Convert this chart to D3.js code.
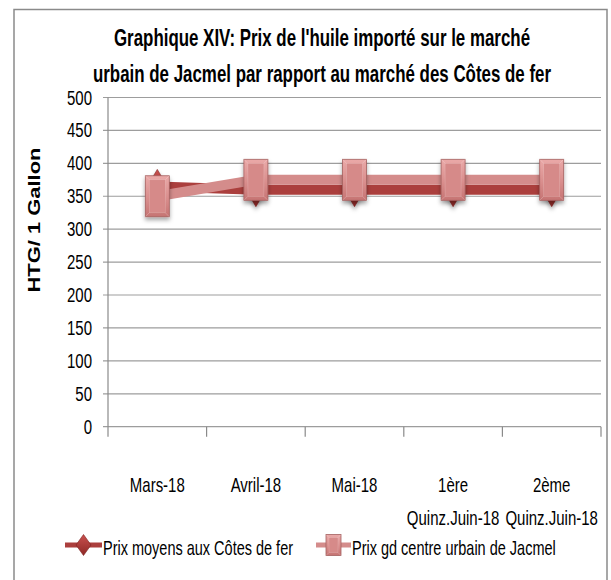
<!DOCTYPE html>
<html>
<head>
<meta charset="utf-8">
<script src="https://cdn.jsdelivr.net/npm/d3@7"></script>
<style>
  body { margin: 0; background: #fff; }
  text { font-family: "Liberation Sans", Arial, sans-serif; fill: #000; }
</style>
</head>
<body>
<div id="chart"></div>
<script>
// data
const categories = ["Mars-18", "Avril-18", "Mai-18", "1ère\nQuinz.Juin-18", "2ème\nQuinz.Juin-18"];
const prixCotesDeFer = [365, 360, 360, 360, 360];
const prixJacmel = [350, 375, 375, 375, 375];
const yTickValues = [0, 50, 100, 150, 200, 250, 300, 350, 400, 450, 500];
const seriesNames = ["Prix moyens aux Côtes de fer", "Prix gd centre urbain de Jacmel"];
const titleLines = ["Graphique XIV: Prix de l'huile importé sur le marché",
                    "urbain de Jacmel par rapport au marché des Côtes de fer"];
const yTitle = "HTG/ 1 Gallon";

const width = 611, height = 580;
const SY = 1.4; // the original picture is stretched vertically

const svg = d3.select("#chart").append("svg")
  .attr("width", width)
  .attr("height", height);

const defs = svg.append("defs");
const squareGrad = defs.append("linearGradient").attr("id", "sqGrad")
  .attr("x1", 0).attr("y1", 0).attr("x2", 0).attr("y2", 1);
squareGrad.append("stop").attr("offset", "0%").attr("stop-color", "#eaa9a8");
squareGrad.append("stop").attr("offset", "55%").attr("stop-color", "#d98e8d");
squareGrad.append("stop").attr("offset", "100%").attr("stop-color", "#c67473");
const diamondGrad = defs.append("linearGradient").attr("id", "diaGrad")
  .attr("x1", 0).attr("y1", 0).attr("x2", 0).attr("y2", 1);
diamondGrad.append("stop").attr("offset", "0%").attr("stop-color", "#c9504e");
diamondGrad.append("stop").attr("offset", "100%").attr("stop-color", "#8e2826");
defs.append("filter").attr("id", "shadow")
  .attr("x", "-50%").attr("y", "-50%").attr("width", "200%").attr("height", "200%")
  .append("feDropShadow")
  .attr("dx", 0).attr("dy", 3).attr("stdDeviation", 2)
  .attr("flood-color", "#000").attr("flood-opacity", 0.35);

// chart border
svg.append("rect")
  .attr("x", 14).attr("y", 9.5)
  .attr("width", 593).attr("height", 600)
  .attr("fill", "none")
  .attr("stroke", "#8a8a8a")
  .attr("stroke-width", 1.5);

const plot = { left: 108, right: 601, top: 97.5, bottom: 426.7 };

const x = d3.scaleBand()
  .domain(categories)
  .range([plot.left, plot.right]);
const cx = d => x(d) + x.bandwidth() / 2;

const y = d3.scaleLinear()
  .domain([0, 500])
  .range([plot.bottom, plot.top]);

// title
svg.append("g").selectAll("text")
  .data(titleLines)
  .join("text")
  .attr("transform", (d, i) => `translate(322,${46 + i * 36}) scale(1,${SY})`)
  .attr("text-anchor", "middle")
  .attr("font-size", 16.9)
  .attr("font-weight", "bold")
  .text(d => d);

// gridlines + y ticks
svg.append("g").selectAll("line")
  .data(yTickValues)
  .join("line")
  .attr("x1", plot.left - 5).attr("x2", plot.right)
  .attr("y1", d => y(d)).attr("y2", d => y(d))
  .attr("stroke", "#9d9d9d")
  .attr("stroke-width", 1.2);

svg.append("g").selectAll("text")
  .data(yTickValues)
  .join("text")
  .attr("transform", d => `translate(92,${y(d) + 7}) scale(1,${SY})`)
  .attr("text-anchor", "end")
  .attr("font-size", 15)
  .attr("fill", "#111")
  .text(d => d);

// axes lines
svg.append("line")
  .attr("x1", plot.left).attr("x2", plot.left)
  .attr("y1", plot.top).attr("y2", plot.bottom)
  .attr("stroke", "#8a8a8a").attr("stroke-width", 1.2);

const bounds = categories.map(c => x(c)).concat([plot.right]);
svg.append("g").selectAll("line")
  .data(bounds)
  .join("line")
  .attr("x1", d => d).attr("x2", d => d)
  .attr("y1", plot.bottom).attr("y2", plot.bottom + 10)
  .attr("stroke", "#8a8a8a").attr("stroke-width", 1.2);

// category labels
const catG = svg.append("g").selectAll("g")
  .data(categories)
  .join("g");
catG.selectAll("text")
  .data(d => d.split("\n").map(t => ({ t, c: d })))
  .join("text")
  .attr("transform", (d, i) => `translate(${cx(d.c)},${492 + i * 33}) scale(1,${SY})`)
  .attr("text-anchor", "middle")
  .attr("font-size", 15)
  .text(d => d.t);

// y axis title
svg.append("text")
  .attr("transform", `translate(40,220) rotate(-90) scale(1.33,1)`)
  .attr("text-anchor", "middle")
  .attr("font-size", 16.5)
  .attr("font-weight", "bold")
  .text(yTitle);

// series
const line = d3.line()
  .x((d, i) => cx(categories[i]))
  .y(d => y(d));

const darkRed = "#ab3f3d", pink = "#d48c8b";

function diamond(g, w, h) {
  g.append("path")
    .attr("d", `M0,${-h / 2}L${w / 2},0L0,${h / 2}L${-w / 2},0Z`)
    .attr("fill", "url(#diaGrad)")
    .attr("stroke", "#7d2220")
    .attr("stroke-width", 0.6);
}

function square(g, w, h, inset) {
  g.append("rect")
    .attr("x", -w / 2).attr("y", -h / 2)
    .attr("width", w).attr("height", h)
    .attr("fill", "url(#sqGrad)")
    .attr("stroke", "#a4605f")
    .attr("stroke-width", 0.8);
  g.append("rect")
    .attr("x", -w / 2 + inset).attr("y", -h / 2 + inset)
    .attr("width", w - 2 * inset).attr("height", h - 2 * inset)
    .attr("fill", "#d68a89")
    .attr("stroke", "rgba(255,255,255,0.25)")
    .attr("stroke-width", 0.6);
  g.append("path")
    .attr("d", `M${-w / 2},${-h / 2}L${-w / 2 + inset},${-h / 2 + inset}M${w / 2},${-h / 2}L${w / 2 - inset},${-h / 2 + inset}` +
      `M${-w / 2},${h / 2}L${-w / 2 + inset},${h / 2 - inset}M${w / 2},${h / 2}L${w / 2 - inset},${h / 2 - inset}`)
    .attr("stroke", "rgba(255,255,255,0.35)")
    .attr("stroke-width", 0.6);
}

svg.append("path")
  .datum(prixCotesDeFer)
  .attr("d", line)
  .attr("fill", "none")
  .attr("stroke", darkRed)
  .attr("stroke-width", 10);

svg.append("g").selectAll("g")
  .data(prixCotesDeFer)
  .join("g")
  .attr("transform", (d, i) => `translate(${cx(categories[i])},${y(d)})`)
  .attr("filter", "url(#shadow)")
  .each(function () { diamond(d3.select(this), 20, 34); });

svg.append("path")
  .datum(prixJacmel)
  .attr("d", line)
  .attr("fill", "none")
  .attr("stroke", pink)
  .attr("stroke-width", 10);

svg.append("g").selectAll("g")
  .data(prixJacmel)
  .join("g")
  .attr("transform", (d, i) => `translate(${cx(categories[i])},${y(d)})`)
  .attr("filter", "url(#shadow)")
  .each(function () { square(d3.select(this), 24, 41, 4); });

// legend
const legendItems = [
  { name: seriesNames[0], color: darkRed, x0: 65, x1: 102, marker: g => diamond(g, 15, 21) },
  { name: seriesNames[1], color: pink, x0: 316, x1: 351, marker: g => square(g, 15, 21, 3) }
];
const lg = svg.append("g").selectAll("g")
  .data(legendItems)
  .join("g");
lg.append("line")
  .attr("x1", d => d.x0).attr("x2", d => d.x1)
  .attr("y1", 545).attr("y2", 545)
  .attr("stroke", d => d.color)
  .attr("stroke-width", 5);
lg.append("g")
  .attr("transform", d => `translate(${(d.x0 + d.x1) / 2},545)`)
  .each(function (d) { d.marker(d3.select(this)); });
lg.append("text")
  .attr("transform", d => `translate(${d.x1 + 1},555) scale(1,${SY})`)
  .attr("font-size", 14.5)
  .text(d => d.name);
</script>
</body>
</html>
